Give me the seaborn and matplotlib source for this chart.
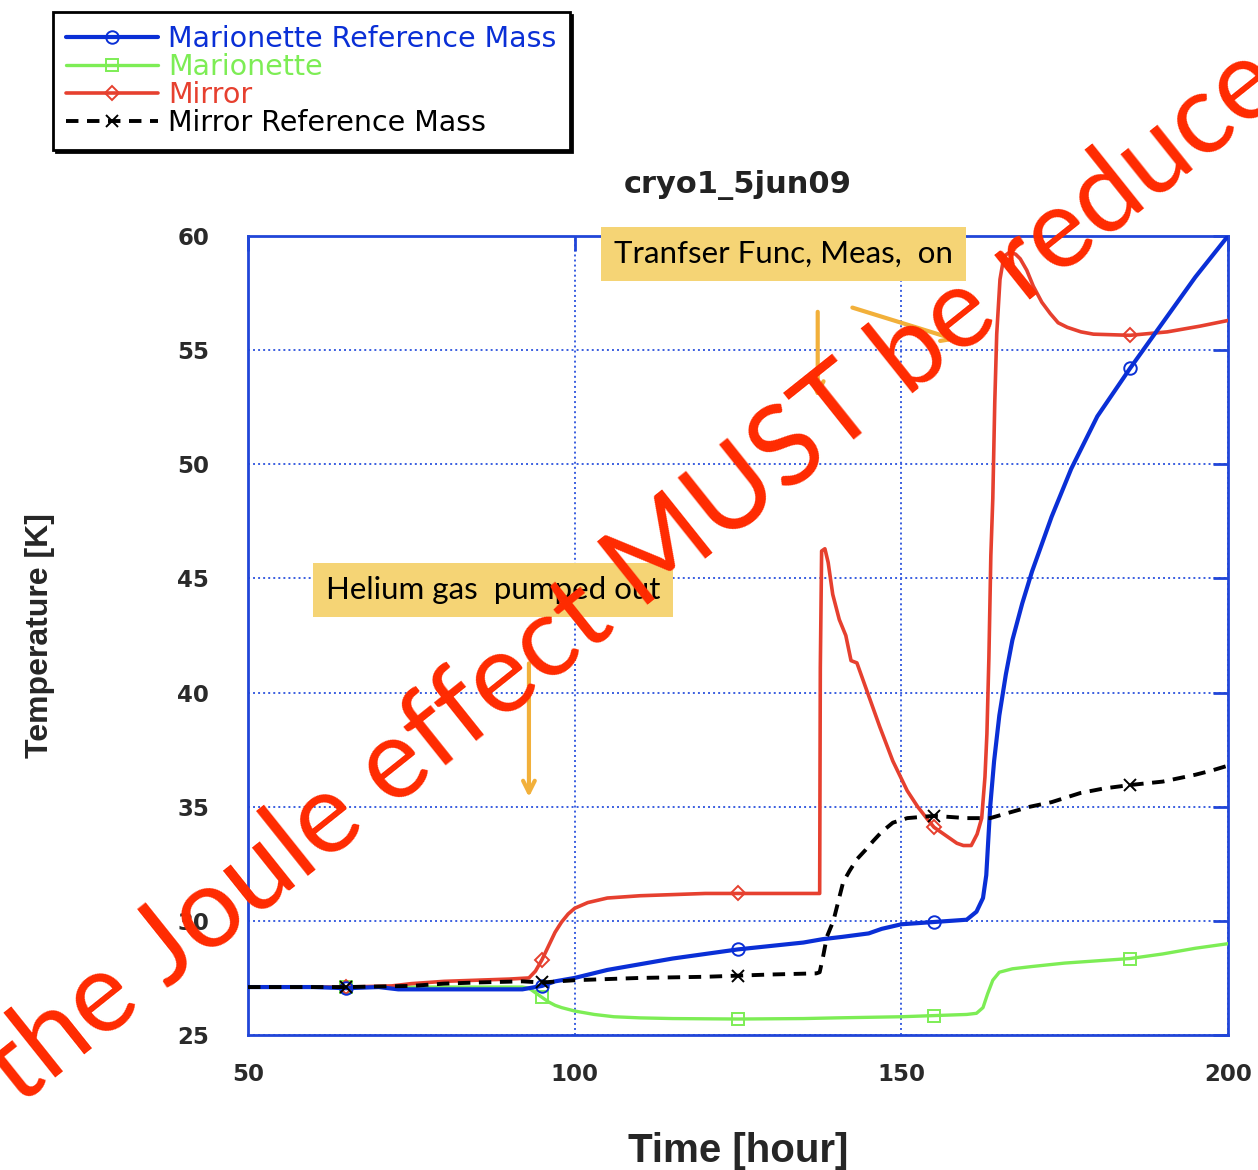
import numpy as np
import pandas as pd
import matplotlib
matplotlib.use("Agg")
import matplotlib.pyplot as plt
import seaborn as sns
from matplotlib.lines import Line2D

# ---------------- data ----------------
marker_hours = [65, 95, 125, 155, 185]

mrm_x = [50, 60, 65, 70, 73, 77, 85, 92, 93, 95, 97, 100, 105, 110, 115, 120, 125, 130, 135, 138,
         141, 145, 147, 150, 155, 160, 161.5, 162.5, 163, 163.6, 164.2, 165, 166, 167, 168.5, 170,
         173, 176, 180, 185, 190, 195, 200]
mrm_y = [27.1, 27.1, 27.05, 27.1, 27.0, 27.0, 27.0, 27.0, 27.05, 27.15, 27.35, 27.5, 27.85, 28.1,
         28.35, 28.55, 28.75, 28.9, 29.05, 29.2, 29.3, 29.45, 29.65, 29.85, 29.95, 30.05, 30.4, 31.0,
         32.0, 35.0, 37.0, 39.0, 40.8, 42.3, 43.9, 45.3, 47.7, 49.8, 52.1, 54.2, 56.2, 58.2, 60.0]

mar_x = [50, 65, 75, 85, 92, 93, 94, 95, 96, 97, 98, 100, 103, 106, 110, 115, 125, 135, 140, 150,
         155, 160, 161.5, 162.5, 163.2, 164, 165, 167, 170, 175, 180, 185, 190, 195, 200]
mar_y = [27.1, 27.1, 27.1, 27.1, 27.1, 27.05, 26.85, 26.65, 26.45, 26.3, 26.2, 26.05, 25.9, 25.8,
         25.75, 25.72, 25.7, 25.72, 25.75, 25.8, 25.85, 25.9, 25.95, 26.2, 26.8, 27.4, 27.75, 27.9,
         28.0, 28.15, 28.25, 28.35, 28.55, 28.8, 29.0]

mir_x = [50, 65, 72, 75, 80, 85, 90, 93, 94, 95, 96, 97, 98, 99, 100, 102, 105, 110, 115, 120, 125,
         130, 137.5, 137.6, 137.8, 138.3, 138.8, 139.5, 140.5, 141.5, 142.3, 143.2, 144.7, 146.7,
         148.7, 150.9, 152.5, 154, 155, 157, 158.5, 159.5, 160.7, 161.6, 162.3, 162.8, 163.1, 163.4,
         163.7, 164.0, 164.3, 164.6, 165.1, 165.7, 166.6, 167.5, 168.2, 169.2, 170.2, 171.5, 172.8,
         174, 175.4, 177.5, 179.4, 185, 190.7, 195.7, 200]
mir_y = [27.1, 27.1, 27.15, 27.25, 27.35, 27.4, 27.45, 27.5, 27.8, 28.3, 28.9, 29.5, 29.95, 30.3,
         30.55, 30.8, 31.0, 31.1, 31.15, 31.2, 31.2, 31.2, 31.2, 41.1, 46.2, 46.3, 45.7, 44.3, 43.2,
         42.5, 41.4, 41.3, 40.1, 38.5, 37.0, 35.7, 35.0, 34.45, 34.1, 33.7, 33.4, 33.3, 33.3, 33.8,
         34.5, 36.3, 38.2, 41.5, 46.0, 48.5, 52.7, 55.7, 58.1, 59.1, 59.3, 59.2, 59.0, 58.5, 57.8,
         57.1, 56.6, 56.2, 56.0, 55.8, 55.7, 55.65, 55.8, 56.05, 56.3]

mrfm_x = [50, 65, 75, 80, 85, 92, 95, 100, 110, 120, 125, 130, 137, 137.5, 138, 138.6, 139.6, 141.1,
          142.1, 143.2, 144.5, 145.7, 147, 148.7, 150.9, 155, 160, 163.6, 166, 169.7, 173, 177.4, 181,
          185, 190, 195, 197.7, 200]
mrfm_y = [27.1, 27.1, 27.15, 27.25, 27.3, 27.35, 27.3, 27.4, 27.5, 27.55, 27.6, 27.65, 27.7, 27.75,
          28.4, 29.3, 30.0, 31.7, 32.2, 32.7, 33.1, 33.5, 33.9, 34.3, 34.5, 34.6, 34.5, 34.5, 34.7,
          35.0, 35.2, 35.6, 35.8, 35.95, 36.1, 36.4, 36.6, 36.8]

series_names = ["Marionette Reference Mass", "Marionette", "Mirror", "Mirror Reference Mass"]
x_ticks = [50, 100, 150, 200]
y_ticks = [25, 30, 35, 40, 45, 50, 55, 60]
title_text = "cryo1_5jun09"
x_label = "Time [hour]"
y_label = "Temperature [K]"
note_top = "Tranfser Func, Meas,  on"
note_mid = "Helium gas  pumped out"
watermark = "the Joule effect MUST be reduced"

# ---------------- style ----------------
sns.set_theme(style="white")
plt.rcParams["font.family"] = ["DejaVu Sans"]

AX_BLUE = "#2146d8"
GRID_BLUE = "#3a5ee0"
C_MRM = "#0a2fd6"
C_MAR = "#7ded55"
C_MIR = "#e6402f"
C_MRFM = "#000000"

fig = plt.figure(figsize=(12.58, 11.70), dpi=100)
ax = fig.add_axes([248 / 1258, 1 - 1035 / 1170, 980 / 1258, 799 / 1170])


def idx_of(xs):
    return [xs.index(m) for m in marker_hours]


common = dict(ax=ax, estimator=None, sort=False, markersize=9, markerfacecolor="none",
              mew=1.4, zorder=3)

sns.lineplot(x=mar_x, y=mar_y, color=C_MAR, linewidth=2.4, marker="s",
             markevery=idx_of(mar_x), mec=C_MAR, **common)
sns.lineplot(x=mir_x, y=mir_y, color=C_MIR, linewidth=2.6, marker="D",
             markevery=idx_of(mir_x), mec=C_MIR, **{**common, "markersize": 7})
sns.lineplot(x=mrm_x, y=mrm_y, color=C_MRM, linewidth=3.0, marker="o",
             markevery=idx_of(mrm_x), mec=C_MRM, **common)
sns.lineplot(x=mrfm_x, y=mrfm_y, color=C_MRFM, linewidth=2.8, marker="x",
             markevery=idx_of(mrfm_x), mec=C_MRFM, linestyle=(0, (3.2, 2.2)), **common)

ax.set_xlim(50, 200)
ax.set_ylim(25, 60)
ax.set_xticks(x_ticks)
ax.set_yticks(y_ticks)
ax.grid(True, color=GRID_BLUE, linestyle=(0, (1, 1.6)), linewidth=1.4)
for s in ax.spines.values():
    s.set_color(AX_BLUE)
    s.set_linewidth(2)
ax.tick_params(axis="both", direction="in", length=11, width=2, color=AX_BLUE,
               top=True, right=True, labelsize=16.5, labelcolor="#2a2a2a")
for lab in ax.get_xticklabels() + ax.get_yticklabels():
    lab.set_fontweight("bold")
ax.tick_params(axis="y", pad=28)
ax.tick_params(axis="x", pad=20)

ax.set_xlabel(x_label, fontsize=29, fontweight="bold", family=["Liberation Sans", "DejaVu Sans"])
ax.xaxis.set_label_coords(0.5, -0.122)
ax.set_ylabel(y_label, fontsize=23, fontweight="bold", family=["Liberation Sans", "DejaVu Sans"])
ax.yaxis.set_label_coords(-0.197, 0.5)

fig.text(738 / 1258, 1 - 185 / 1170, title_text, ha="center", va="center",
         fontsize=22, fontweight="bold", color="#222222")

# legend
handles = [
    Line2D([], [], color=C_MRM, lw=3.0, marker="o", mfc="none", mec=C_MRM, ms=9, mew=1.4),
    Line2D([], [], color=C_MAR, lw=2.4, marker="s", mfc="none", mec=C_MAR, ms=9, mew=1.4),
    Line2D([], [], color=C_MIR, lw=2.6, marker="D", mfc="none", mec=C_MIR, ms=7, mew=1.4),
    Line2D([], [], color=C_MRFM, lw=2.8, marker="x", mec=C_MRFM, ms=9, mew=1.4,
           linestyle=(0, (3.2, 2.2))),
]
leg = fig.legend(handles, series_names, loc="upper left",
                 bbox_to_anchor=(53 / 1258, 1 - 12 / 1170), borderaxespad=0,
                 fontsize=20.5, frameon=True, fancybox=False,
                 shadow={"color": "black", "alpha": 1.0},
                 handlelength=3.25, handletextpad=0.35, labelspacing=0.0,
                 borderpad=0.45, labelcolor="linecolor")
leg.get_frame().set_edgecolor("black")
leg.get_frame().set_linewidth(2)
leg.get_frame().set_facecolor("white")

# annotation boxes
box_kw = dict(boxstyle="square,pad=0.42", fc="#f5d475", ec="none")
ax.text(132.0, 59.2, note_top, ha="center", va="center", fontsize=22.5,
        family=["Lato", "DejaVu Sans"], color="black", bbox=box_kw, zorder=6, clip_on=False)
ax.text(87.5, 44.5, note_mid, ha="center", va="center", fontsize=22.5,
        family=["Lato", "DejaVu Sans"], color="black", bbox=box_kw, zorder=6)

arrow_kw = dict(arrowstyle="->,head_length=0.7,head_width=0.35", color="#f2b03a", lw=3)
ax.annotate("", xy=(93.0, 35.3), xytext=(93.0, 41.4), arrowprops=arrow_kw, zorder=7)
ax.annotate("", xy=(137.2, 52.8), xytext=(137.2, 56.8), arrowprops=arrow_kw, zorder=7)
ax.annotate("", xy=(159.0, 55.4), xytext=(142.1, 56.9), arrowprops=arrow_kw, zorder=7)

# watermark
fig.text(657 / 1258, 1 - 556 / 1170, watermark, ha="center", va="center", rotation=38.6,
         rotation_mode="anchor", fontsize=80.5, color="#ff2a00",
         family=["Lato", "DejaVu Sans"], zorder=20)

fig.savefig("out.png", dpi=100)
